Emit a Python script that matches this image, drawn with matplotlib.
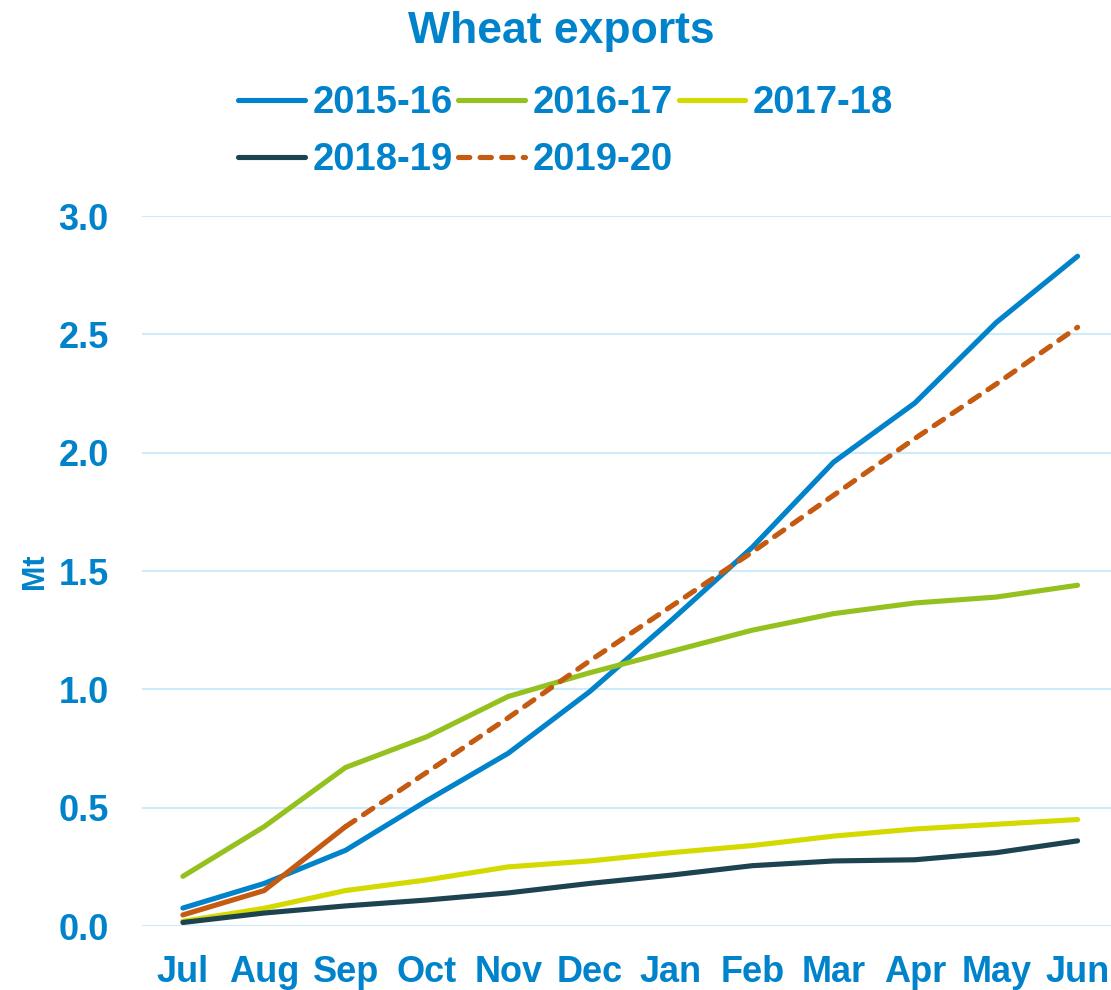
import matplotlib.pyplot as plt
from matplotlib.lines import Line2D

months = ['Jul', 'Aug', 'Sep', 'Oct', 'Nov', 'Dec', 'Jan', 'Feb', 'Mar', 'Apr', 'May', 'Jun']

s1516 = [0.076, 0.18, 0.32, 0.53, 0.73, 0.99, 1.29, 1.60, 1.96, 2.21, 2.55, 2.83]
s1617 = [0.21, 0.42, 0.67, 0.80, 0.97, 1.07, 1.16, 1.25, 1.32, 1.365, 1.39, 1.44]
s1718 = [0.02, 0.075, 0.15, 0.195, 0.25, 0.275, 0.31, 0.34, 0.38, 0.41, 0.43, 0.45]
s1819 = [0.015, 0.055, 0.085, 0.11, 0.14, 0.18, 0.215, 0.255, 0.275, 0.28, 0.31, 0.36]
# 2019-20: actual to Sep, forecast from Sep on
s1920_actual = [0.047, 0.15, 0.42]
s1920_forecast = [0.42, 0.65, 0.88, 1.12, 1.35, 1.58, 1.82, 2.06, 2.29, 2.53]

blue = '#0083CA'
green = '#95C11F'
yellow = '#D4D900'
dark = '#1D4250'
orange = '#C55A11'
lw = 3.7
dash = (0, (2.2, 2.0))

plt.rcParams['font.family'] = ['Liberation Sans', 'DejaVu Sans']
plt.rcParams['font.weight'] = 'bold'

fig = plt.figure(figsize=(11.11, 9.90), dpi=100)
ax = fig.add_axes([0.128, 0.0646, 0.8785, 0.7172])

x = list(range(len(months)))
ax.plot(x, s1516, color=blue, lw=lw, solid_capstyle='round')
ax.plot(x, s1617, color=green, lw=lw, solid_capstyle='round')
ax.plot(x, s1718, color=yellow, lw=lw, solid_capstyle='round')
ax.plot(x, s1819, color=dark, lw=lw, solid_capstyle='round')
ax.plot(x[:3], s1920_actual, color=orange, lw=lw, solid_capstyle='round')
ax.plot(x[2:], s1920_forecast, color=orange, lw=lw, linestyle=dash, dash_capstyle='round')

ax.set_xlim(-0.5, 11.5)
ax.set_ylim(0, 3.0)
ax.set_yticks([0, 0.5, 1.0, 1.5, 2.0, 2.5, 3.0])
ax.set_yticklabels(['%.1f' % v for v in ax.get_yticks()])
ax.set_xticks(x)
ax.set_xticklabels(months)
ax.tick_params(axis='both', length=0, labelsize=26, labelcolor=blue)
ax.tick_params(axis='y', pad=24)
ax.tick_params(axis='x', pad=21)
for s in ax.spines.values():
    s.set_visible(False)
ax.grid(axis='y', color='#CDEBFA', lw=1.5)
ax.set_axisbelow(True)
ax.set_ylabel('Mt', color=blue, fontsize=22, fontweight='bold', labelpad=6)

fig.text(0.505, 0.968, 'Wheat exports', ha='center', va='center', color=blue, fontsize=32)

# column-major order so the legend reads row by row
handles = [Line2D([], [], color=blue, lw=lw, solid_capstyle='round'),
           Line2D([], [], color=dark, lw=lw, solid_capstyle='round'),
           Line2D([], [], color=green, lw=lw, solid_capstyle='round'),
           Line2D([], [], color=orange, lw=lw, linestyle=dash, dash_capstyle='round'),
           Line2D([], [], color=yellow, lw=lw, solid_capstyle='round')]
labels = ['2015-16', '2018-19', '2016-17', '2019-20', '2017-18']
leg = fig.legend(handles, labels, loc='center', bbox_to_anchor=(0.509, 0.867), ncol=3,
                 frameon=False, fontsize=27.5, handlelength=1.75, handletextpad=0.2,
                 columnspacing=0.15, labelspacing=0.55, borderaxespad=0)
for t in leg.get_texts():
    t.set_color(blue)

fig.savefig('out.png', dpi=100)
